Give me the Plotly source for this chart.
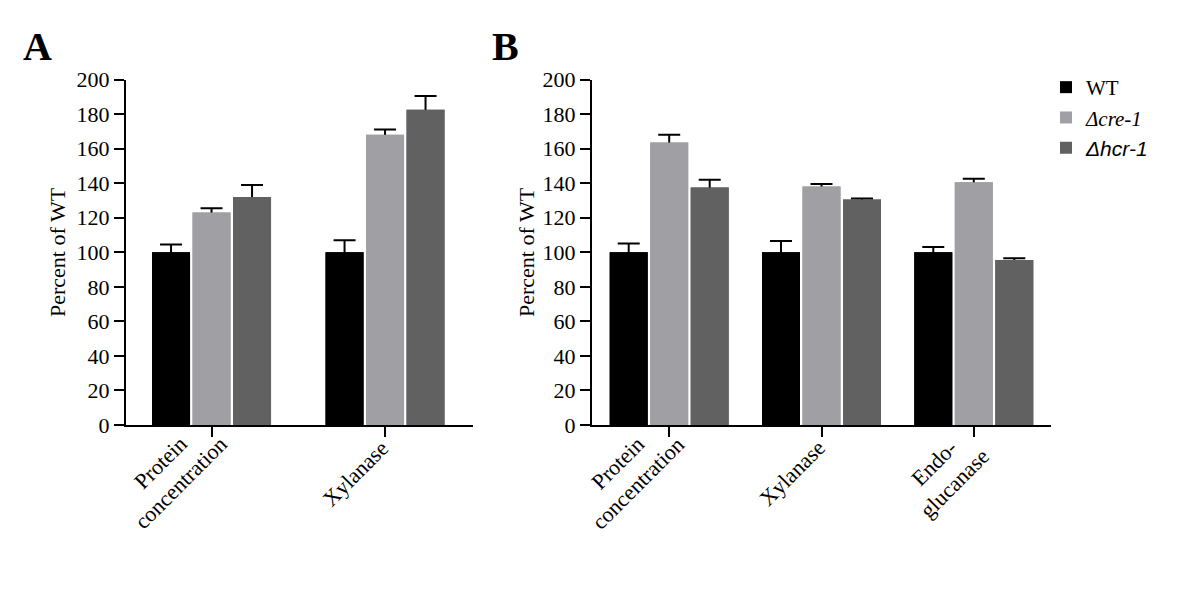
import plotly.graph_objects as go

# Series
series = ['WT', 'Δcre-1', 'Δhcr-1']
legend_names = ['WT', '<i>Δcre-1</i>',
                '<span style="font-family:Liberation Sans, Arial"><i>Δhcr-1</i></span>']
colors = ['#000000', '#a0a0a4', '#616161']

# Panel A
cats_a = ['Protein<br>concentration', 'Xylanase']
a_wt = [100, 100]
a_wt_err = [4.5, 7]
a_cre = [123, 168]
a_cre_err = [2.5, 3]
a_hcr = [132, 182.5]
a_hcr_err = [7, 8]

# Panel B
cats_b = ['Protein<br>concentration', 'Xylanase', 'Endo-<br>glucanase']
b_wt = [100, 100, 100]
b_wt_err = [5, 6.5, 3]
b_cre = [163.5, 138, 140.5]
b_cre_err = [4.5, 1.5, 2]
b_hcr = [137.5, 130.5, 95.5]
b_hcr_err = [4.5, 0.6, 1]

FONT = 'Liberation Serif, Times New Roman, serif'

# horizontal offset (px) of each rotated label centre from its tick
label_dx = {'Protein<br>concentration': -41, 'Xylanase': -30, 'Endo-<br>glucanase': -29}

panels = [
    dict(cats=cats_a, vals=[a_wt, a_cre, a_hcr], errs=[a_wt_err, a_cre_err, a_hcr_err],
         xa='x', ya='y', px_per_unit=173.5, legend=False),
    dict(cats=cats_b, vals=[b_wt, b_cre, b_hcr], errs=[b_wt_err, b_cre_err, b_hcr_err],
         xa='x2', ya='y2', px_per_unit=152.3, legend=True),
]

slot_px = 40.5
bar_px = 38.0

fig = go.Figure()

# first pass: bars carrying the (upper) error bars, second pass covers stems/shoes
for cover in (False, True):
    for p in panels:
        u = p['px_per_unit']
        slot = slot_px / u
        w = bar_px / u
        for i, name in enumerate(series):
            off = -1.5 * slot + i * slot + (slot - w) / 2
            kw = {}
            if not cover:
                kw['error_y'] = dict(type='data', symmetric=False, array=p['errs'][i],
                                     arrayminus=p['vals'][i], color='black',
                                     thickness=2, width=11)
            fig.add_trace(go.Bar(
                x=p['cats'], y=p['vals'][i], name=legend_names[i],
                marker=dict(color=colors[i], line=dict(width=0)),
                width=[w] * len(p['cats']), offset=[off] * len(p['cats']),
                xaxis=p['xa'], yaxis=p['ya'],
                showlegend=cover and p['legend'], hoverinfo='skip', **kw))

y_dom = [1 - 425 / 610, 1 - 79.5 / 610]

axis_common = dict(showline=True, linewidth=2, linecolor='black', ticks='outside',
                   ticklen=10, tickwidth=2, tickcolor='black', showgrid=False,
                   zeroline=False, automargin=False)

fig.update_layout(
    template='none',
    width=1200, height=610,
    paper_bgcolor='white', plot_bgcolor='white',
    margin=dict(l=0, r=0, t=0, b=0, pad=0),
    barmode='overlay',
    font=dict(family=FONT, size=22, color='black'),
    xaxis=dict(domain=[126 / 1200, 473 / 1200], range=[-0.493, 1.507],
               showticklabels=False, anchor='y', **axis_common),
    yaxis=dict(domain=y_dom, range=[0, 200], dtick=20, anchor='x',
               tickfont=dict(size=22), **axis_common),
    xaxis2=dict(domain=[592 / 1200, 1051 / 1200], range=[-0.507, 2.507],
                showticklabels=False, anchor='y2', **axis_common),
    yaxis2=dict(domain=y_dom, range=[0, 200], dtick=20, anchor='x2',
                tickfont=dict(size=22), **axis_common),
    legend=dict(x=1046 / 1200, y=1 - 67 / 610, xanchor='left', yanchor='top',
                font=dict(family=FONT, size=21), bgcolor='rgba(0,0,0,0)',
                borderwidth=0, tracegroupgap=0),
)

# rotated, centred category labels
for p in panels:
    for c in p['cats']:
        fig.add_annotation(x=c, xref=p['xa'], y=1 - 473 / 610, yref='paper',
                           text=c, showarrow=False, textangle=-45, align='center',
                           xanchor='center', yanchor='middle',
                           xshift=label_dx[c],
                           font=dict(family=FONT, size=22))

# y-axis titles
for xc in (58, 527):
    fig.add_annotation(x=xc / 1200, y=1 - 252 / 610, xref='paper', yref='paper',
                       text='Percent of WT', showarrow=False, textangle=-90,
                       xanchor='center', yanchor='middle',
                       font=dict(family=FONT, size=22))

# panel letters
for letter, xc in (('A', 37.5), ('B', 505.5)):
    fig.add_annotation(x=xc / 1200, y=1 - 46.5 / 610, xref='paper', yref='paper',
                       text='<b>' + letter + '</b>', showarrow=False,
                       xanchor='center', yanchor='middle',
                       font=dict(family=FONT, size=40))

# page has a default 8px body margin; drop it so the figure sits at (0, 0)
fig.write_html('out.html', config={'displayModeBar': False},
               post_script="document.body.style.margin = '0';")
